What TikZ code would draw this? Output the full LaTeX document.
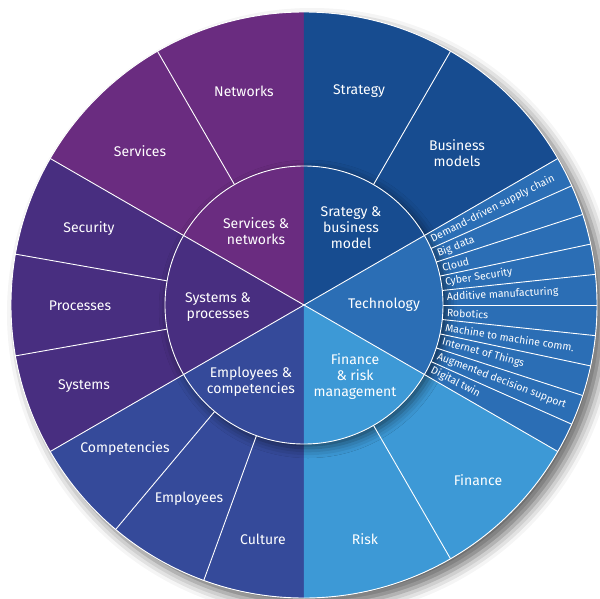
\documentclass[tikz,border=0pt]{standalone}
\usepackage{fontspec}
\setmainfont{Fira Sans}
\usetikzlibrary{shadows.blur}

\definecolor{netpurple}{HTML}{6A2C80}
\definecolor{syspurple}{HTML}{482E80}
\definecolor{empblue}{HTML}{354A9A}
\definecolor{finblue}{HTML}{3D99D6}
\definecolor{techblue}{HTML}{2B6EB5}
\definecolor{stratblue}{HTML}{174C90}

\begin{document}
\begin{tikzpicture}[x=1pt, y=1pt,
    divider/.style={white, line width=0.9pt},
    biglabel/.style={text=white, align=center, inner sep=0pt,
        font=\fontsize{14}{16}\selectfont},
    techlabel/.style={text=white, anchor=west, inner sep=0pt,
        font=\fontsize{10.5}{12}\selectfont}
]
    \useasboundingbox (-304,-293) rectangle (296,305);

    % shadow of the whole wheel
    \fill[white, blur shadow={shadow xshift=8pt, shadow yshift=-8pt,
        shadow blur radius=12pt, shadow opacity=60}] (0,0) circle[radius=293];

    % outer ring
    \fill[netpurple] (0,0) -- (90:293) arc[start angle=90, end angle=150, radius=293] -- cycle;
    \fill[syspurple] (0,0) -- (150:293) arc[start angle=150, end angle=210, radius=293] -- cycle;
    \fill[empblue] (0,0) -- (210:293) arc[start angle=210, end angle=270, radius=293] -- cycle;
    \fill[finblue] (0,0) -- (270:293) arc[start angle=270, end angle=330, radius=293] -- cycle;
    \fill[techblue] (0,0) -- (-30:293) arc[start angle=-30, end angle=30, radius=293] -- cycle;
    \fill[stratblue] (0,0) -- (30:293) arc[start angle=30, end angle=90, radius=293] -- cycle;

    % inner disc
    \fill[techblue, blur shadow={shadow xshift=4pt, shadow yshift=-4pt,
        shadow blur radius=10pt, shadow opacity=55}] (0,0) circle[radius=139];
    \fill[netpurple] (0,0) -- (90:139) arc[start angle=90, end angle=150, radius=139] -- cycle;
    \fill[syspurple] (0,0) -- (150:139) arc[start angle=150, end angle=210, radius=139] -- cycle;
    \fill[empblue] (0,0) -- (210:139) arc[start angle=210, end angle=270, radius=139] -- cycle;
    \fill[finblue] (0,0) -- (270:139) arc[start angle=270, end angle=330, radius=139] -- cycle;
    \fill[techblue] (0,0) -- (-30:139) arc[start angle=-30, end angle=30, radius=139] -- cycle;
    \fill[stratblue] (0,0) -- (30:139) arc[start angle=30, end angle=90, radius=139] -- cycle;

    % borders between the groups
    \draw[divider] (0,0) -- (30:293);
    \draw[divider] (0,0) -- (150:293);
    \draw[divider] (0,0) -- (210:293);
    \draw[divider] (0,0) -- (330:293);
    % borders in the outer ring
    \draw[divider] (60:139) -- (60:293);
    \draw[divider] (120:139) -- (120:293);
    \draw[divider] (170:139) -- (170:293);
    \draw[divider] (190:139) -- (190:293);
    \draw[divider] (230:139) -- (230:293);
    \draw[divider] (250:139) -- (250:293);
    \draw[divider] (300:139) -- (300:293);
    \draw[divider] (24:139) -- (24:293);
    \draw[divider] (18:139) -- (18:293);
    \draw[divider] (12:139) -- (12:293);
    \draw[divider] (6:139) -- (6:293);
    \draw[divider] (0:139) -- (0:293);
    \draw[divider] (-6:139) -- (-6:293);
    \draw[divider] (-12:139) -- (-12:293);
    \draw[divider] (-18:139) -- (-18:293);
    \draw[divider] (-24:139) -- (-24:293);
    \draw[divider] (0,0) circle[radius=139];
    \draw[divider] (0,0) circle[radius=293];

    % inner labels
    \node[biglabel] (servnet) at (-48,74) {Services \&\\networks};
    \node[biglabel] (sysproc) at (-86,-2) {Systems \&\\processes};
    \node[biglabel] (empcomp) at (-53,-77) {Employees \&\\competencies};
    \node[biglabel] (finrisk) at (51,-72) {Finance\\\& risk\\management};
    \node[biglabel] (tech) at (80,0) {Technology};
    \node[biglabel] (stratbm) at (47,77) {Srategy \&\\business\\model};

    % outer labels
    \node[biglabel] (networks) at (-60,214) {Networks};
    \node[biglabel] (services) at (-164,154) {Services};
    \node[biglabel] (security) at (-215,76) {Security};
    \node[biglabel] (processes) at (-224,-1) {Processes};
    \node[biglabel] (systems) at (-220,-81) {Systems};
    \node[biglabel] (competencies) at (-179,-144) {Competencies};
    \node[biglabel] (employees) at (-115,-194) {Employees};
    \node[biglabel] (culture) at (-41,-234) {Culture};
    \node[biglabel] (risk) at (61,-234) {Risk};
    \node[biglabel] (finance) at (174,-175) {Finance};
    \node[biglabel] (busmodels) at (153,152) {Business\\models};
    \node[biglabel] (strategy) at (55,214) {Strategy};

    % technology items
    \node[techlabel, rotate=27] (demand) at (27:143) {Demand-driven supply chain};
    \node[techlabel, rotate=21] (bigdata) at (21:143) {Big data};
    \node[techlabel, rotate=15] (cloud) at (15:143) {Cloud};
    \node[techlabel, rotate=9] (cyber) at (9:143) {Cyber Security};
    \node[techlabel, rotate=3] (additive) at (3:143) {Additive manufacturing};
    \node[techlabel, rotate=-3] (robotics) at (-3:143) {Robotics};
    \node[techlabel, rotate=-9] (mtom) at (-9:143) {Machine to machine comm.};
    \node[techlabel, rotate=-15] (iot) at (-15:143) {Internet of Things};
    \node[techlabel, rotate=-21] (augmented) at (-21:143) {Augmented decision support};
    \node[techlabel, rotate=-27] (twin) at (-27:143) {Digital twin};
\end{tikzpicture}
\end{document}
